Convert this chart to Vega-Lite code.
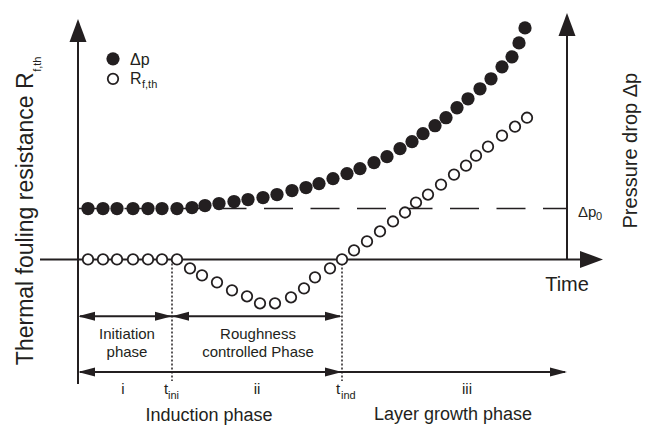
{
  "$schema": "https://vega.github.io/schema/vega-lite/v6.json",
  "width": 651,
  "height": 425,
  "padding": 0,
  "autosize": {"type": "fit", "contains": "padding"},
  "background": "white",
  "config": {"view": {"stroke": null}, "text": {"font": "Liberation Sans", "color": "#231f20"}},
  "datasets": {
    "dp": [
      {"x":10,"y":51},{"x":25,"y":51},{"x":39,"y":51},{"x":55,"y":51},{"x":70,"y":51},{"x":84,"y":51},{"x":99,"y":51},
      {"x":114,"y":52},{"x":127,"y":54},{"x":141,"y":56},{"x":156,"y":58},{"x":170,"y":60},{"x":185,"y":62},{"x":199,"y":65},
      {"x":214,"y":69},{"x":228,"y":72},{"x":241,"y":76},{"x":255,"y":81},{"x":269,"y":86},{"x":282,"y":91},{"x":296,"y":97},
      {"x":309,"y":103},{"x":322,"y":111},{"x":334,"y":118},{"x":345,"y":126},{"x":357,"y":134},{"x":368,"y":142},{"x":379,"y":152},
      {"x":390,"y":161},{"x":402,"y":171},{"x":413,"y":181},{"x":424,"y":193},{"x":434,"y":203},{"x":441,"y":217},{"x":447,"y":232}
    ],
    "rf": [
      {"x":10,"y":0},{"x":25,"y":0},{"x":39,"y":0},{"x":55,"y":0},{"x":70,"y":0},{"x":84,"y":0},{"x":99,"y":0},
      {"x":112,"y":-9},{"x":124,"y":-16},{"x":139,"y":-23},{"x":154,"y":-31},{"x":169,"y":-37},{"x":182,"y":-44},{"x":197,"y":-44},
      {"x":213,"y":-38},{"x":226,"y":-29},{"x":237,"y":-18},{"x":252,"y":-9},{"x":264,"y":0},
      {"x":276,"y":9},{"x":289,"y":18},{"x":302,"y":28},{"x":315,"y":38},{"x":327,"y":47},{"x":338,"y":57},{"x":350,"y":65},
      {"x":363,"y":75},{"x":376,"y":85},{"x":388,"y":94},{"x":398,"y":104},{"x":410,"y":113},{"x":424,"y":124},{"x":437,"y":133},{"x":449,"y":142}
    ],
    "legendDp": [{"x":35,"y":201}],
    "legendRf": [{"x":35,"y":181}],
    "solid": [
      {"x":0,"y":-125,"x2":0,"y2":222},
      {"x":489,"y":0,"x2":489,"y2":228},
      {"x":-38,"y":0,"x2":505,"y2":0},
      {"x":2,"y":-57,"x2":262,"y2":-57},
      {"x":2,"y":-113,"x2":487,"y2":-113}
    ],
    "dashed": [{"x":0,"y":51,"x2":489,"y2":51}],
    "dotted": [
      {"x":94,"y":0,"x2":94,"y2":-122},
      {"x":264,"y":0,"x2":264,"y2":-122}
    ],
    "heads": [
      {"x":0,"y":241,"dir":"up"},
      {"x":489,"y":247,"dir":"up"},
      {"x":525,"y":0,"dir":"bigright"},
      {"x":0,"y":-57,"dir":"left"},
      {"x":94,"y":-57,"dir":"right"},
      {"x":94,"y":-57,"dir":"left"},
      {"x":264,"y":-57,"dir":"right"},
      {"x":0,"y":-113,"dir":"left"},
      {"x":264,"y":-113,"dir":"right"},
      {"x":489,"y":-113,"dir":"right"}
    ]
  },
  "encoding": {
    "x": {"field": "x", "type": "quantitative", "scale": {"domain": [-78, 573], "nice": false, "zero": false}, "axis": null},
    "y": {"field": "y", "type": "quantitative", "scale": {"domain": [-165, 260], "nice": false, "zero": false}, "axis": null}
  },
  "layer": [
    {
      "data": {"name": "dashed"},
      "mark": {"type": "rule", "color": "#231f20", "strokeWidth": 1.6, "strokeDash": [29, 17.5]},
      "encoding": {"x2": {"field": "x2"}, "y2": {"field": "y2"}}
    },
    {
      "data": {"name": "dotted"},
      "mark": {"type": "rule", "color": "#231f20", "strokeWidth": 1.5, "strokeDash": [2, 2]},
      "encoding": {"x2": {"field": "x2"}, "y2": {"field": "y2"}}
    },
    {
      "data": {"name": "solid"},
      "mark": {"type": "rule", "color": "#231f20", "strokeWidth": 2},
      "encoding": {"x2": {"field": "x2"}, "y2": {"field": "y2"}}
    },
    {
      "data": {"name": "heads"},
      "mark": {"type": "point", "filled": true, "color": "#231f20", "opacity": 1, "size": 400},
      "encoding": {
        "shape": {
          "field": "dir", "type": "nominal", "legend": null,
          "scale": {
            "domain": ["up", "bigright", "left", "right"],
            "range": ["M0,0L-0.85,2.3L0.85,2.3Z", "M0,0L-2.3,-0.85L-2.3,0.85Z", "M0,0L1.7,-0.45L1.7,0.45Z", "M0,0L-1.7,-0.45L-1.7,0.45Z"]
          }
        }
      }
    },
    {
      "data": {"name": "dp"},
      "mark": {"type": "point", "shape": "circle", "filled": true, "color": "#231f20", "opacity": 1, "size": 176}
    },
    {
      "data": {"name": "rf"},
      "mark": {"type": "point", "shape": "circle", "filled": false, "fill": "white", "fillOpacity": 1, "stroke": "#231f20", "strokeWidth": 1.8, "opacity": 1, "size": 110}
    },
    {
      "data": {"name": "legendDp"},
      "mark": {"type": "point", "shape": "circle", "filled": true, "color": "#231f20", "opacity": 1, "size": 176}
    },
    {
      "data": {"name": "legendRf"},
      "mark": {"type": "point", "shape": "circle", "filled": false, "fill": "white", "fillOpacity": 1, "stroke": "#231f20", "strokeWidth": 1.8, "opacity": 1, "size": 110}
    },
    {
      "data": {"values": [{"x": -45, "y": -106, "label": "Thermal fouling resistance R"}]},
      "mark": {"type": "text", "fontSize": 23, "angle": 270, "align": "left", "baseline": "alphabetic"},
      "encoding": {"text": {"field": "label"}}
    },
    {
      "data": {"values": [{"x": -37, "y": 188, "label": "f,th"}]},
      "mark": {"type": "text", "fontSize": 11, "angle": 270, "align": "left", "baseline": "alphabetic"},
      "encoding": {"text": {"field": "label"}}
    },
    {
      "data": {"values": [{"x": 559, "y": 109, "label": "Pressure drop Δp"}]},
      "mark": {"type": "text", "fontSize": 20, "angle": 270, "align": "center", "baseline": "alphabetic"},
      "encoding": {"text": {"field": "label"}}
    },
    {
      "data": {"values": [{"x": 489, "y": -32, "label": "Time"}]},
      "mark": {"type": "text", "fontSize": 20, "align": "center", "baseline": "alphabetic"},
      "encoding": {"text": {"field": "label"}}
    },
    {
      "data": {"values": [
        {"x": 131, "y": -162, "label": "Induction phase"},
        {"x": 375, "y": -161, "label": "Layer growth phase"}
      ]},
      "mark": {"type": "text", "fontSize": 18, "align": "center", "baseline": "alphabetic"},
      "encoding": {"text": {"field": "label"}}
    },
    {
      "data": {"values": [
        {"x": 49, "y": -80, "label": "Initiation"},
        {"x": 49, "y": -98, "label": "phase"},
        {"x": 180, "y": -80, "label": "Roughness"},
        {"x": 180, "y": -98, "label": "controlled Phase"},
        {"x": 45, "y": -135, "label": "i"},
        {"x": 179, "y": -135, "label": "ii"},
        {"x": 389, "y": -135, "label": "iii"}
      ]},
      "mark": {"type": "text", "fontSize": 15, "align": "center", "baseline": "alphabetic"},
      "encoding": {"text": {"field": "label"}}
    },
    {
      "data": {"values": [
        {"x": 86, "y": -135, "label": "t"},
        {"x": 258, "y": -135, "label": "t"},
        {"x": 500, "y": 42, "label": "Δp"}
      ]},
      "mark": {"type": "text", "fontSize": 15, "align": "left", "baseline": "alphabetic"},
      "encoding": {"text": {"field": "label"}}
    },
    {
      "data": {"values": [
        {"x": 52, "y": 195, "label": "Δp"},
        {"x": 52, "y": 175.5, "label": "R"}
      ]},
      "mark": {"type": "text", "fontSize": 16, "align": "left", "baseline": "alphabetic"},
      "encoding": {"text": {"field": "label"}}
    },
    {
      "data": {"values": [
        {"x": 90, "y": -140, "label": "ini"},
        {"x": 263, "y": -140, "label": "ind"},
        {"x": 518, "y": 39, "label": "0"},
        {"x": 64, "y": 172, "label": "f,th"}
      ]},
      "mark": {"type": "text", "fontSize": 11, "align": "left", "baseline": "alphabetic"},
      "encoding": {"text": {"field": "label"}}
    }
  ]
}
